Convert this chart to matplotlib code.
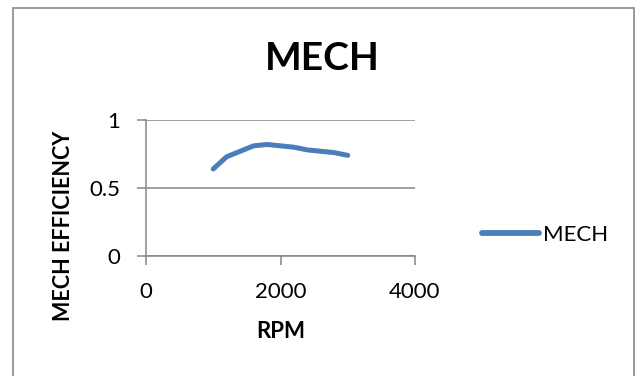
import matplotlib
matplotlib.use('Agg')
import matplotlib.pyplot as plt
from matplotlib.patches import Rectangle

# data
rpm = [1000, 1200, 1400, 1600, 1800, 2000, 2200, 2400, 2600, 2800, 3000]
mech_eff = [0.64, 0.73, 0.77, 0.81, 0.82, 0.81, 0.80, 0.78, 0.77, 0.76, 0.74]

xticks = [0, 2000, 4000]
yticks = [0, 0.5, 1]
ytick_labels = ['0', '0.5', '1']

plt.rcParams['font.family'] = ['Lato', 'DejaVu Sans']

line_col = '#4A7EBB'
axis_col = '#868686'

W, H = 640, 376
fig = plt.figure(figsize=(6.4, 3.76), dpi=100)

# plot area in pixel coords -> figure fraction
ax = fig.add_axes([146/W, 1-256/H, (415-146)/W, (256-120)/H])

ax.plot(rpm, mech_eff, color=line_col, lw=3.6, solid_capstyle='round',
        solid_joinstyle='round', label='MECH')

ax.set_xlim(0, 4000)
ax.set_ylim(0, 1)
ax.set_xticks(xticks)
ax.set_yticks(yticks)
ax.set_yticklabels(ytick_labels)

ax.grid(axis='y', color=axis_col, lw=1.1)
ax.set_axisbelow(True)
for s in ['top', 'right']:
    ax.spines[s].set_visible(False)
for s in ['left', 'bottom']:
    ax.spines[s].set_color(axis_col)
    ax.spines[s].set_linewidth(1.1)

ax.tick_params(axis='both', direction='out', length=6.5, width=1.1,
               color=axis_col, labelsize=16, labelcolor='black')
ax.tick_params(axis='x', pad=12)
ax.tick_params(axis='y', pad=12)

# title / axis labels placed like the original
fig.text(322/W, 1-59/H, 'MECH', ha='center', va='center',
         fontsize=28, fontweight='bold')
fig.text(281/W, 1-331/H, 'RPM', ha='center', va='center',
         fontsize=16, fontweight='bold')
fig.text(63/W, 1-226/H, 'MECH EFFICIENCY', ha='center', va='center',
         rotation=90, fontsize=15.5, fontweight='bold')

leg = ax.legend(loc='center left', bbox_to_anchor=(482/W, 1-235/H),
                bbox_transform=fig.transFigure, frameon=False,
                borderpad=0, borderaxespad=0, handlelength=2.55,
                handletextpad=0.2, fontsize=16)
for h in leg.get_lines():
    h.set_linewidth(4.2)

# outer chart border
fig.patches.append(Rectangle((13/W, -0.1), (634-13)/W, 1-8/H+0.1,
                             transform=fig.transFigure, fill=False,
                             edgecolor='#898989', lw=1.2))

fig.savefig('out.png', dpi=100)
